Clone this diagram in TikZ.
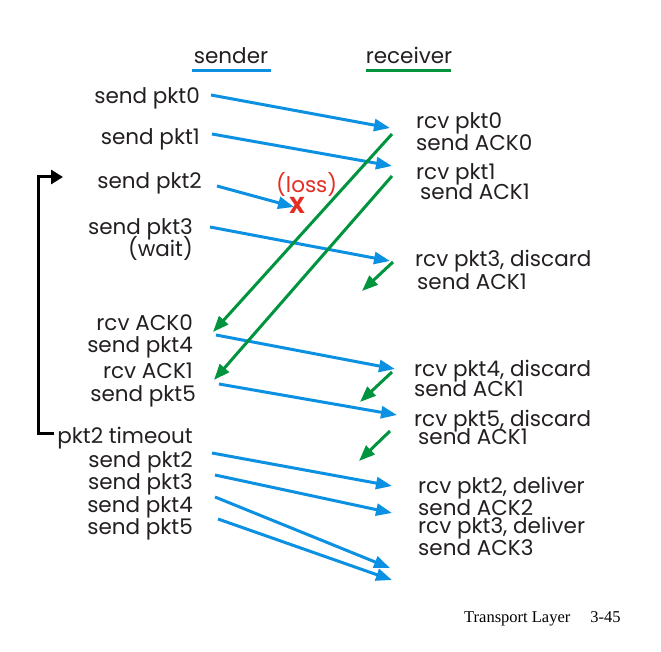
\documentclass[tikz,border=0pt]{standalone}
\usepackage{fontspec}
\setmainfont{Poppins}
\newfontfamily\footfont{Liberation Serif}
\usetikzlibrary{arrows.meta}
\definecolor{pblue}{RGB}{12,145,226}
\definecolor{pgreen}{RGB}{0,148,62}
\definecolor{lossred}{RGB}{228,45,35}
\definecolor{txt}{RGB}{35,31,32}
\begin{document}
\begin{tikzpicture}[x=1pt,y=-1pt,
  lbl/.style={inner sep=0pt, font=\fontsize{21.5}{21.5}\selectfont, text=txt},
  sl/.style={lbl, anchor=base east},
  rl/.style={lbl, anchor=base west},
  pkt/.style={pblue, line width=3pt, -{Triangle[length=16pt,width=12pt]}},
  ack/.style={pgreen, line width=3pt, -{Triangle[length=16pt,width=12pt]}},
  timer/.style={black, line width=3pt, -{Triangle[length=12pt,width=14pt]}}
]
\useasboundingbox (0,0) rectangle (661,652);

% headers
\node[lbl, anchor=base] (hs) at (231,64) {sender};
\node[lbl, anchor=base] (hr) at (409,64) {receiver};
\draw[pblue, line width=3pt] (192,71) -- (271,71);
\draw[pgreen, line width=3pt] (366,71) -- (451,71);

% sender side labels
\node[sl] (s0) at (200,104) {send pkt0};
\node[sl] (s1) at (200,145) {send pkt1};
\node[sl] (s2) at (202,189) {send pkt2};
\node[sl] (s3) at (193,235) {send pkt3};
\node[sl] (sw) at (193,257) {(wait)};
\node[sl] (ra0) at (193,330) {rcv ACK0};
\node[sl] (s4) at (193,352) {send pkt4};
\node[sl] (ra1) at (193,378) {rcv ACK1};
\node[sl] (s5) at (196,401) {send pkt5};
\node[sl] (to) at (193,443) {pkt2 timeout};
\node[sl] (s2b) at (193,467) {send pkt2};
\node[sl] (s3b) at (193,489) {send pkt3};
\node[sl] (s4b) at (193,512) {send pkt4};
\node[sl] (s5b) at (193,534) {send pkt5};

% receiver side labels
\node[rl] (r0) at (416,129) {rcv pkt0};
\node[rl] (a0) at (416,151) {send ACK0};
\node[rl] (r1) at (416,180) {rcv pkt1};
\node[rl] (a1) at (420,200) {send ACK1};
\node[rl] (r3) at (415,267) {rcv pkt3, discard};
\node[rl] (a1b) at (417,290) {send ACK1};
\node[rl] (r4) at (414,376) {rcv pkt4, discard};
\node[rl] (a1c) at (414,396) {send ACK1};
\node[rl] (r5) at (414,426) {rcv pkt5, discard};
\node[rl] (a1d) at (418,444) {send ACK1};
\node[rl] (r2) at (418,493) {rcv pkt2, deliver};
\node[rl] (a2) at (418,515) {send ACK2};
\node[rl] (r3b) at (418,533) {rcv pkt3, deliver};
\node[rl] (a3) at (418,555) {send ACK3};

% loss
\node[lbl, anchor=base west, text=lossred] (loss) at (276,193) {(loss)};
\node[inner sep=0pt, text=lossred, font=\fontsize{23}{23}\selectfont\bfseries] (x) at (297,205) {X};

% footer
\node[inner sep=0pt, anchor=base west, font=\footfont\fontsize{16.5}{16.5}\selectfont] (foot) at (464,622) {Transport Layer\hspace{20pt}3-45};

% arrow end points
\coordinate (p0a) at (211,95);  \coordinate (p0b) at (390,128);
\coordinate (p1a) at (212,134); \coordinate (p1b) at (392,166);
\coordinate (p2a) at (217,186); \coordinate (p2b) at (294,207);
\coordinate (p3a) at (210,227); \coordinate (p3b) at (390,261);
\coordinate (p4a) at (216,335); \coordinate (p4b) at (395,369);
\coordinate (p5a) at (219,384); \coordinate (p5b) at (397,415);
\coordinate (q2a) at (212,453); \coordinate (q2b) at (392,486);
\coordinate (q3a) at (215,475); \coordinate (q3b) at (392,513);
\coordinate (q4a) at (215,497); \coordinate (q4b) at (390,568);
\coordinate (q5a) at (218,519); \coordinate (q5b) at (392,580);

\coordinate (k0a) at (392,134); \coordinate (k0b) at (213,332);
\coordinate (k1a) at (392,176); \coordinate (k1b) at (214,380);
\coordinate (k2a) at (393,262); \coordinate (k2b) at (362,291);
\coordinate (k3a) at (392,372); \coordinate (k3b) at (360,402);
\coordinate (k4a) at (390,431); \coordinate (k4b) at (359,461);

\coordinate (tb) at (54,433);
\coordinate (tc1) at (38,433);
\coordinate (tc2) at (38,177);
\coordinate (tt) at (63,177);

% packets
\draw[pkt] (p0a) -- (p0b);
\draw[pkt] (p1a) -- (p1b);
\draw[pkt] (p2a) -- (p2b);
\draw[pkt] (p3a) -- (p3b);
\draw[pkt] (p4a) -- (p4b);
\draw[pkt] (p5a) -- (p5b);
\draw[pkt] (q2a) -- (q2b);
\draw[pkt] (q3a) -- (q3b);
\draw[pkt] (q4a) -- (q4b);
\draw[pkt] (q5a) -- (q5b);

% acks
\draw[ack] (k0a) -- (k0b);
\draw[ack] (k1a) -- (k1b);
\draw[ack] (k2a) -- (k2b);
\draw[ack] (k3a) -- (k3b);
\draw[ack] (k4a) -- (k4b);

% timeout bracket
\draw[timer] (tb) -- (tc1) -- (tc2) -- (tt);
\end{tikzpicture}
\end{document}
